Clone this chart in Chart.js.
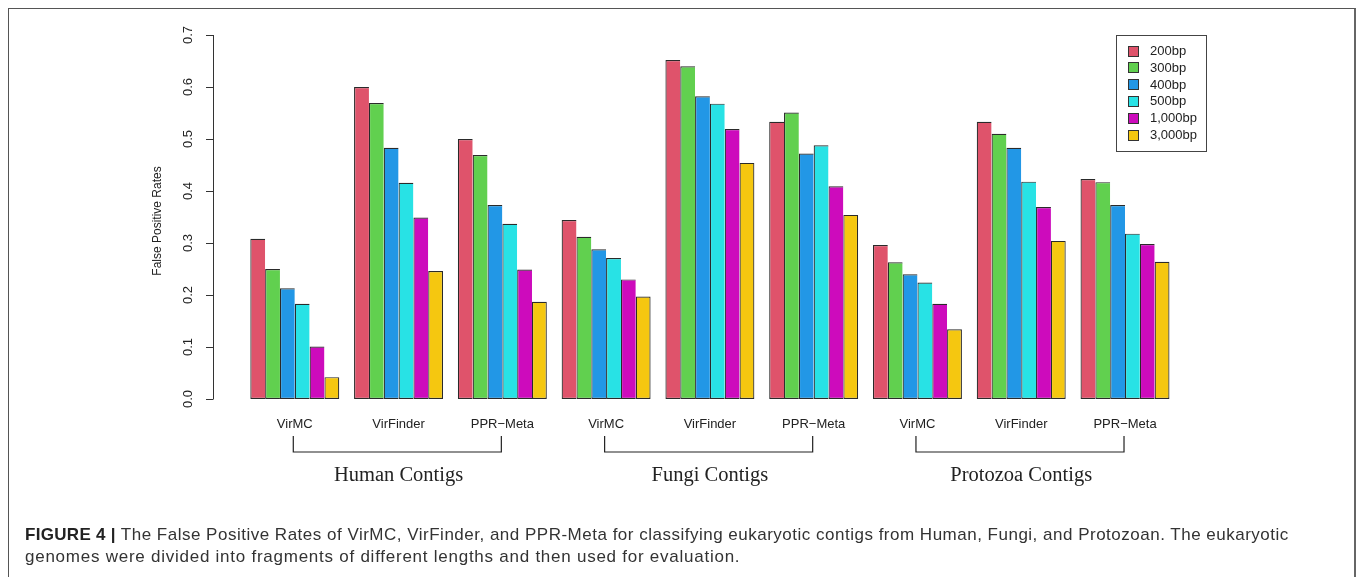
<!DOCTYPE html>
<html>
<head>
<meta charset="utf-8">
<script src="https://cdn.jsdelivr.net/npm/chart.js@4"></script>
<style>
  html, body { margin: 0; padding: 0; background: #fff; }
  #wrap { position: relative; width: 1358px; height: 577px; overflow: hidden; background: #fff; }
  #c { position: absolute; left: 0; top: 0; }
  #frame { position: absolute; left: 8px; top: 8px; width: 1345px; height: 600px;
           border-left: 1px solid #555; border-top: 1px solid #555; border-right: 2px solid #666; }
  #caption { position: absolute; left: 25px; top: 524px; font-family: 'Liberation Sans', Arial, sans-serif;
             font-size: 17px; letter-spacing: 0.5px; line-height: 22px; color: #333; white-space: nowrap; }
  #caption b { color: #222; letter-spacing: 0.3px; }
  #caption .l2 { letter-spacing: 0.75px; }
</style>
</head>
<body>
<div id="wrap">
  <div id="frame"></div>
  <canvas id="c" width="1358" height="577"></canvas>
  <div id="caption"><b>FIGURE 4 |</b> The False Positive Rates of VirMC, VirFinder, and PPR-Meta for classifying eukaryotic contigs from Human, Fungi, and Protozoan. The eukaryotic<br><span class="l2">genomes were divided into fragments of different lengths and then used for evaluation.</span></div>
</div>
<script>
// ---- data ----
const categories = ["VirMC", "VirFinder", "PPR\u2212Meta", "VirMC", "VirFinder", "PPR\u2212Meta", "VirMC", "VirFinder", "PPR\u2212Meta"];
const groups = ["Human Contigs", "Fungi Contigs", "Protozoa Contigs"];
const seriesLabels = ["200bp", "300bp", "400bp", "500bp", "1,000bp", "3,000bp"];
const s200  = [0.308, 0.600, 0.500, 0.344, 0.652, 0.533, 0.296, 0.533, 0.423];
const s300  = [0.250, 0.569, 0.469, 0.312, 0.640, 0.551, 0.263, 0.510, 0.417];
const s400  = [0.213, 0.483, 0.373, 0.288, 0.582, 0.472, 0.240, 0.483, 0.373];
const s500  = [0.183, 0.416, 0.337, 0.271, 0.568, 0.488, 0.224, 0.418, 0.318];
const s1000 = [0.101, 0.349, 0.249, 0.230, 0.519, 0.409, 0.183, 0.369, 0.298];
const s3000 = [0.042, 0.246, 0.187, 0.197, 0.454, 0.354, 0.134, 0.304, 0.264];
const yTicks = [0.0, 0.1, 0.2, 0.3, 0.4, 0.5, 0.6, 0.7];
const yTitle = "False Positive Rates";

// ---- styles ----
const colors = ["#DF536B", "#61D04F", "#2297E6", "#28E2E5", "#CD0BBC", "#F5C710"];
const seriesValues = [s200, s300, s400, s500, s1000, s3000];
const SANS = "'Liberation Sans', Arial, sans-serif";
const SERIF = "'Liberation Serif', 'Times New Roman', serif";
const INK = "#222";

const datasets = seriesValues.map((vals, i) => ({
  label: seriesLabels[i],
  data: vals,
  backgroundColor: colors[i],
  borderColor: "#2a2a2a",
  borderWidth: i === seriesValues.length - 1 ? 1.2 : { top: 1.2, left: 1.2, bottom: 1.2, right: 0 },
  borderSkipped: false,
  categoryPercentage: 6 / 7,
  barPercentage: 1.0
}));

const decor = {
  id: 'decor',
  afterDraw(chart) {
    const ctx = chart.ctx;
    const ys = chart.scales.y, xs = chart.scales.x;
    ctx.save();
    // y axis
    const axX = 213.5;
    const y0 = ys.getPixelForValue(yTicks[0]);
    const y1 = ys.getPixelForValue(yTicks[yTicks.length - 1]);
    ctx.strokeStyle = "#333";
    ctx.lineWidth = 1;
    ctx.beginPath();
    ctx.moveTo(axX, y0); ctx.lineTo(axX, y1);
    yTicks.forEach(v => {
      const py = Math.round(ys.getPixelForValue(v)) + 0.5;
      ctx.moveTo(axX, py); ctx.lineTo(axX - 7.5, py);
    });
    ctx.stroke();
    ctx.fillStyle = INK;
    ctx.font = "13px " + SANS;
    ctx.textAlign = "center";
    ctx.textBaseline = "middle";
    yTicks.forEach(v => {
      const py = ys.getPixelForValue(v);
      ctx.save();
      ctx.translate(188, py);
      ctx.rotate(-Math.PI / 2);
      ctx.fillText(v.toFixed(1), 0, 0);
      ctx.restore();
    });
    ctx.save();
    ctx.font = "12px " + SANS;
    ctx.translate(158, (y0 + y1) / 2 + 4);
    ctx.rotate(-Math.PI / 2);
    ctx.fillText(yTitle, 0, 0);
    ctx.restore();

    // category labels
    ctx.font = "13px " + SANS;
    categories.forEach((c, i) => {
      ctx.fillText(c, xs.getPixelForValue(i), 424);
    });

    // brackets + group titles
    ctx.strokeStyle = "#222";
    ctx.lineWidth = 1.2;
    groups.forEach((g, k) => {
      const xa = xs.getPixelForValue(k * 3) - 1.5;
      const xb = xs.getPixelForValue(k * 3 + 2) - 1;
      const xm = xs.getPixelForValue(k * 3 + 1);
      ctx.beginPath();
      ctx.moveTo(xa, 436); ctx.lineTo(xa, 452); ctx.lineTo(xb, 452); ctx.lineTo(xb, 436);
      ctx.stroke();
      ctx.font = "20.5px " + SERIF;
      ctx.fillText(g, xm, 476);
    });

    // legend
    ctx.strokeStyle = "#444";
    ctx.lineWidth = 1;
    ctx.strokeRect(1116.5, 35.5, 90, 116);
    ctx.font = "13px " + SANS;
    ctx.textAlign = "left";
    chart.data.datasets.forEach((ds, i) => {
      const cy = 51 + i * 16.8;
      ctx.fillStyle = ds.backgroundColor;
      ctx.fillRect(1128, Math.round(cy - 5.5), 11, 11);
      ctx.strokeStyle = "#333";
      ctx.strokeRect(1128.5, Math.round(cy - 5.5) + 0.5, 10, 10);
      ctx.fillStyle = INK;
      ctx.fillText(ds.label, 1150, cy + 0.5);
    });
    ctx.restore();
  }
};

new Chart(document.getElementById('c'), {
  type: 'bar',
  data: { labels: categories, datasets },
  options: {
    responsive: false,
    animation: false,
    events: [],
    layout: { padding: { left: 242.9, right: 181.1, top: 35, bottom: 178 } },
    scales: {
      x: { display: false, offset: true },
      y: { display: false, min: 0, max: 0.7 }
    },
    plugins: { legend: { display: false }, tooltip: { enabled: false } }
  },
  plugins: [decor]
});
</script>
</body>
</html>
